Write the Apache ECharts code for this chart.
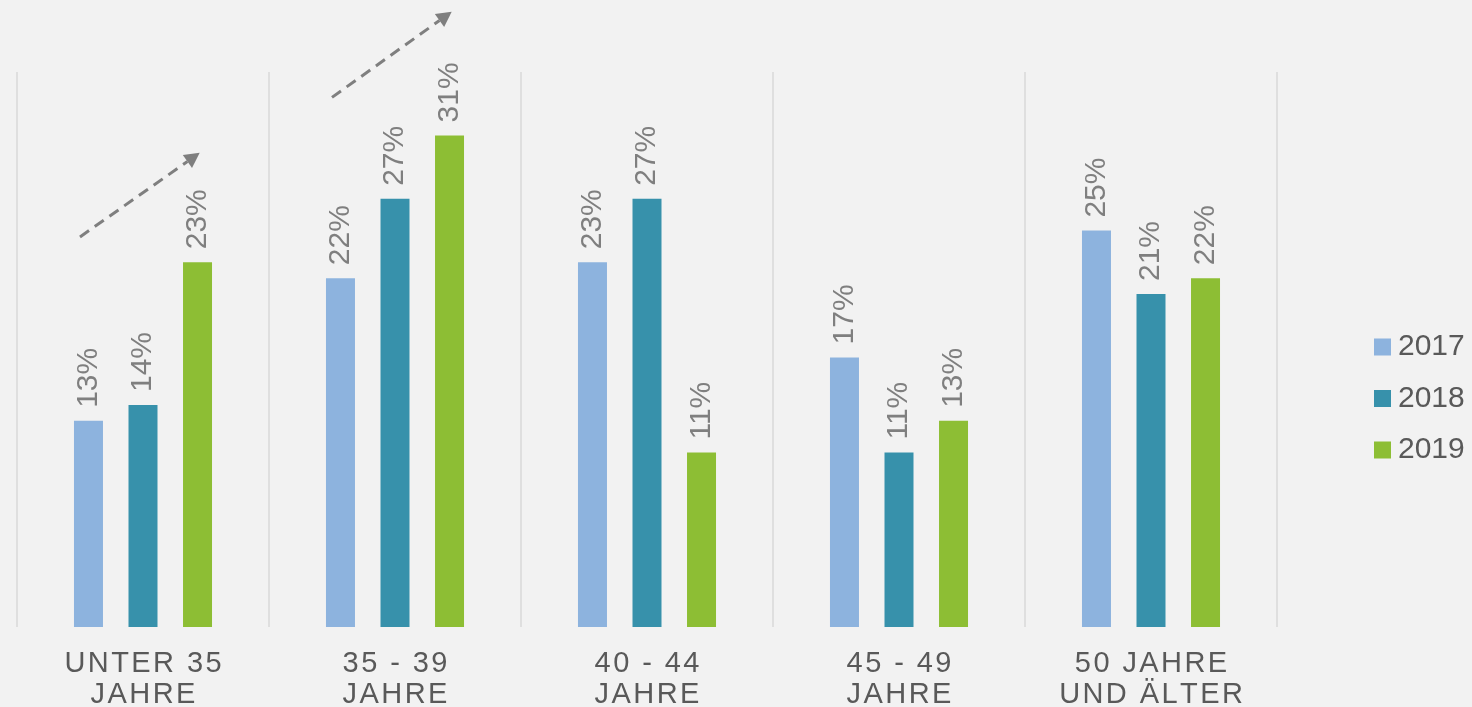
<!DOCTYPE html>
<html>
<head>
<meta charset="utf-8">
<script src="https://cdn.jsdelivr.net/npm/echarts@6/dist/echarts.min.js"></script>
<style>
html,body{margin:0;padding:0;background:#f2f2f2;}
#main{width:1472px;height:707px;}
</style>
</head>
<body>
<div id="main"></div>
<script>
const categories = ['UNTER 35\nJAHRE', '35 - 39\nJAHRE', '40 - 44\nJAHRE', '45 - 49\nJAHRE', '50 JAHRE\nUND ÄLTER'];
const seriesNames = ['2017', '2018', '2019'];
const values2017 = [13, 22, 23, 17, 25];
const values2018 = [14, 27, 27, 11, 21];
const values2019 = [23, 31, 11, 13, 22];
// trend arrows (annotation): category index, start value, end value
const arrowCategory = [0, 1];
const arrowFrom = [24.6, 33.4];
const arrowTo = [29.9, 38.8];

const colors = ['#8db3de', '#3791ab', '#8dbe34'];
const FONT = "'Liberation Sans', Arial, sans-serif";

function spaced(s) {
  return s.split('\n').map(line => line.split('').join('\u200A')).join('\n');
}

const chart = echarts.init(document.getElementById('main'));

const labelOpt = {
  show: true,
  position: 'top',
  rotate: 90,
  align: 'left',
  verticalAlign: 'middle',
  distance: 13,
  formatter: '{c}%',
  color: '#7f7f7f',
  fontSize: 30,
  fontFamily: FONT
};

function barSeries(name, data, color) {
  return {
    name: name,
    type: 'bar',
    data: data,
    barWidth: 29,
    barGap: '88%',
    itemStyle: { color: color },
    label: labelOpt
  };
}

const arrowData = arrowCategory.map((c, i) => [c, arrowFrom[i], arrowTo[i]]);

chart.setOption({
  backgroundColor: '#f2f2f2',
  animation: false,
  grid: { left: 17, right: 195, top: 72, bottom: 80, containLabel: false, outerBoundsMode: 'none' },
  legend: {
    orient: 'vertical',
    left: 1374,
    top: 332,
    padding: 0,
    itemWidth: 17,
    itemHeight: 17,
    itemGap: 21.5,
    icon: 'rect',
    data: seriesNames,
    textStyle: { color: '#595959', fontSize: 30, fontFamily: FONT, lineHeight: 30, padding: [0, 0, 0, 2] }
  },
  xAxis: {
    type: 'category',
    data: categories,
    axisLine: { show: false },
    axisTick: { show: false },
    splitLine: { show: true, lineStyle: { color: '#d9d9d9', width: 1.5 } },
    axisLabel: {
      color: '#595959',
      fontSize: 29,
      lineHeight: 31,
      fontFamily: FONT,
      margin: 21,
      interval: 0,
      formatter: v => spaced(v)
    }
  },
  yAxis: {
    type: 'value',
    min: 0,
    max: 35,
    show: false,
    splitLine: { show: false }
  },
  series: [
    barSeries(seriesNames[0], values2017, colors[0]),
    barSeries(seriesNames[1], values2018, colors[1]),
    barSeries(seriesNames[2], values2019, colors[2]),
    {
      type: 'custom',
      silent: true,
      clip: false,
      data: arrowData,
      encode: { x: 0, y: [1, 2] },
      renderItem: function (params, api) {
        const c = api.value(0);
        const band = api.size([1, 0])[0];
        const p0 = api.coord([c, api.value(1)]);
        const p1 = api.coord([c, api.value(2)]);
        const x0 = p0[0] - 0.25 * band;
        const y0 = p0[1];
        const x1 = p1[0] + 0.225 * band;
        const y1 = p1[1];
        const dx = x1 - x0, dy = y1 - y0;
        const len = Math.sqrt(dx * dx + dy * dy);
        const ux = dx / len, uy = dy / len;
        const head = 15, half = 8;
        const bx = x1 - ux * head, by = y1 - uy * head;
        const nx = -uy, ny = ux;
        return {
          type: 'group',
          children: [
            {
              type: 'line',
              shape: { x1: x0, y1: y0, x2: bx, y2: by },
              style: { stroke: '#7f7f7f', lineWidth: 3, lineDash: [11, 7] }
            },
            {
              type: 'polygon',
              shape: { points: [[x1, y1], [bx + nx * half, by + ny * half], [bx - nx * half, by - ny * half]] },
              style: { fill: '#7f7f7f' }
            }
          ]
        };
      }
    }
  ]
});
</script>
</body>
</html>
